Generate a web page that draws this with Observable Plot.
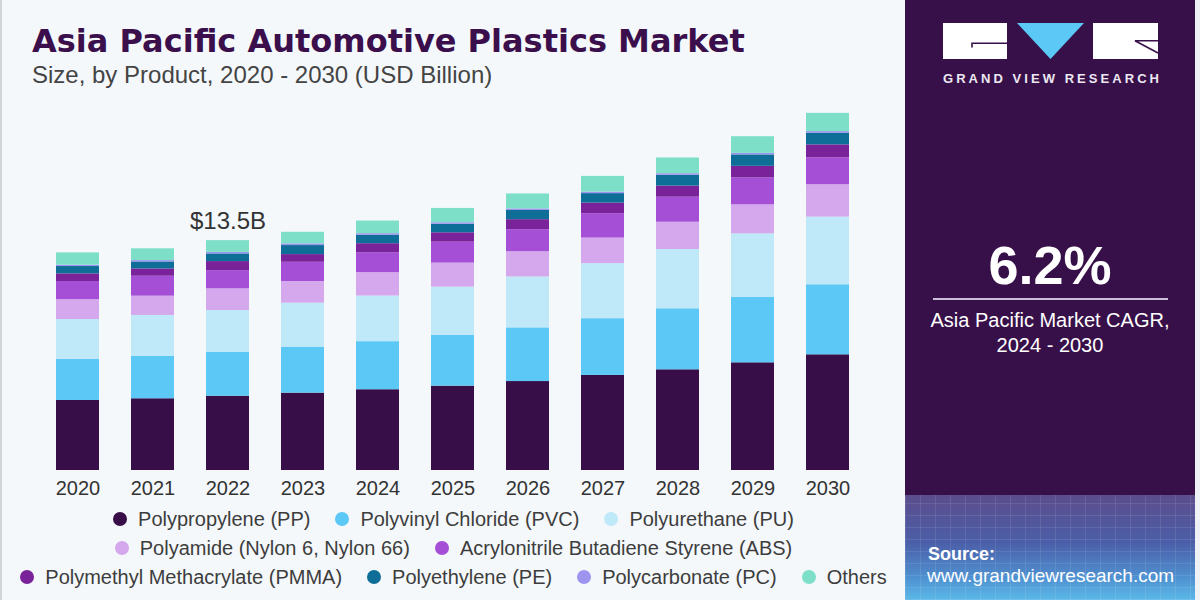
<!DOCTYPE html>
<html>
<head>
<meta charset="utf-8">
<script src="https://cdn.jsdelivr.net/npm/d3@7"></script>
<script src="https://cdn.jsdelivr.net/npm/@observablehq/plot@0.6"></script>
<style>
  html, body { margin: 0; padding: 0; }
  body { width: 1200px; height: 600px; overflow: hidden; background: #f4f8fb; font-family: "Liberation Sans", Arial, sans-serif; }
  #page { position: relative; width: 1200px; height: 600px; background: #f4f8fb; border-left: 2px solid #d2d4d8; box-sizing: border-box; }
  .abs { position: absolute; white-space: nowrap; }
  #title { left: 30px; top: 25px; font-family: "DejaVu Sans", sans-serif; font-weight: bold; font-size: 32px; line-height: 32px; color: #3a0f4c; }
  #subtitle { left: 30px; top: 63px; font-size: 24px; line-height: 24px; color: #444; }
  #chart { left: -2px; top: 100px; }
  .lrow { position: absolute; left: -2px; width: 907px; height: 28px; display: flex; justify-content: center; align-items: center; font-size: 20px; color: #3d3d3d; }
  .item { display: flex; align-items: center; margin-right: 25px; }
  .item:last-child { margin-right: 0; }
  .dot { width: 14px; height: 14px; border-radius: 50%; margin-right: 11px; }
  #panel { left: 903px; top: 0; width: 290px; height: 600px; background: #381049; overflow: hidden; }
  #grid { left: 0; top: 495px; width: 290px; height: 105px;
    background:
      repeating-linear-gradient(90deg, rgba(255,255,255,0.09) 0 1px, transparent 1px 15px),
      repeating-linear-gradient(0deg, rgba(255,255,255,0.09) 0 1px, transparent 1px 12px),
      linear-gradient(to bottom, #5c4d8c 0%, #4b5ea8 45%, #4f93d2 80%, #5cb9e8 100%); }
  #edge { left: 1193px; top: 0; width: 7px; height: 600px; background: #eef2f6; }
</style>
</head>
<body>
<div id="page">
  <div id="title" class="abs">Asia Pacific Automotive Plastics Market</div>
  <div id="subtitle" class="abs">Size, by Product, 2020 - 2030 (USD Billion)</div>
  <div id="chart" class="abs"></div>
  <div id="legend"></div>

  <div id="panel" class="abs">
    <div id="grid" class="abs"></div>
  </div>
  <div id="edge" class="abs"></div>
  <svg class="abs" style="left:-2px;top:0" width="1200" height="100">
    <rect x="943" y="23" width="64" height="36" fill="#ffffff"/>
    <path d="M972,47.5 L972,43.3 L1007,43.3" fill="none" stroke="#381049" stroke-width="1.6"/>
    <polygon points="1017,23 1084,23 1050.5,59" fill="#5bc8f5"/>
    <rect x="1093" y="23" width="65" height="36" fill="#ffffff"/>
    <path d="M1158,40.7 L1135,40.7 L1158,53" fill="none" stroke="#381049" stroke-width="1.6"/>
  </svg>
  <div class="abs" style="left:941px;top:72px;font-size:13px;line-height:13px;font-weight:bold;letter-spacing:3.05px;color:#ece8f2;">GRAND VIEW RESEARCH</div>
  <div class="abs" style="left:903px;width:290px;top:238px;text-align:center;font-size:54px;line-height:54px;font-weight:bold;color:#fff;">6.2%</div>
  <div class="abs" style="left:931px;top:298px;width:235px;height:2px;background:#c9c0d8;"></div>
  <div class="abs" style="left:903px;width:290px;top:310px;text-align:center;font-size:20px;line-height:20px;color:#fff;">Asia Pacific Market CAGR,</div>
  <div class="abs" style="left:903px;width:290px;top:335px;text-align:center;font-size:20px;line-height:20px;color:#fff;">2024 - 2030</div>
  <div class="abs" style="left:926px;top:545px;font-size:18px;line-height:18px;font-weight:bold;color:#fff;">Source:</div>
  <div class="abs" style="left:925px;top:566px;font-size:19px;line-height:19px;color:#fff;">www.grandviewresearch.com</div>
</div>
<script>
// ---- Data (USD Billion) ----
const years = ["2020","2021","2022","2023","2024","2025","2026","2027","2028","2029","2030"];
const products = [
  "Polypropylene (PP)",
  "Polyvinyl Chloride (PVC)",
  "Polyurethane (PU)",
  "Polyamide (Nylon 6, Nylon 66)",
  "Acrylonitrile Butadiene Styrene (ABS)",
  "Polymethyl Methacrylate (PMMA)",
  "Polyethylene (PE)",
  "Polycarbonate (PC)",
  "Others"
];
const colors = ["#380e49","#5bc8f5","#bfe8f9","#d5a7ec","#a54fd7","#7a2299","#0f6e97","#9d94f0","#7ddfc8"];

const pp     = [4.11, 4.21, 4.36, 4.54, 4.74, 4.95, 5.22, 5.58, 5.91, 6.32, 6.79];
const pvc    = [2.42, 2.48, 2.58, 2.70, 2.82, 2.98, 3.15, 3.33, 3.58, 3.85, 4.11];
const pu     = [2.33, 2.41, 2.45, 2.58, 2.68, 2.83, 2.99, 3.23, 3.48, 3.72, 3.97];
const pa     = [1.17, 1.13, 1.27, 1.27, 1.37, 1.41, 1.48, 1.50, 1.60, 1.70, 1.90];
const abs    = [1.06, 1.17, 1.07, 1.13, 1.17, 1.23, 1.29, 1.43, 1.47, 1.58, 1.58];
const pmma   = [0.45, 0.43, 0.53, 0.45, 0.53, 0.55, 0.59, 0.62, 0.65, 0.68, 0.76];
const pe     = [0.43, 0.41, 0.45, 0.53, 0.50, 0.50, 0.54, 0.56, 0.64, 0.67, 0.69];
const pc     = [0.08, 0.08, 0.09, 0.10, 0.09, 0.09, 0.09, 0.09, 0.09, 0.09, 0.09];
const others = [0.72, 0.69, 0.69, 0.68, 0.74, 0.84, 0.88, 0.92, 0.92, 0.98, 1.07];

const annotYears = ["2022"];
const annotLabels = ["$13.5B"];

// ---- Build table ----
const series = [pp, pvc, pu, pa, abs, pmma, pe, pc, others];
const table = [];
products.forEach((p, i) => years.forEach((y, j) => table.push({year: y, product: p, value: series[i][j]})));
const totals = {};
years.forEach((y, j) => totals[y] = d3.sum(series, s => s[j]));
const annots = annotYears.map((y, k) => ({year: y, label: annotLabels[k], total: totals[y]}));

const chart = Plot.plot({
  width: 907,
  height: 400,
  marginLeft: 23,
  marginRight: 26,
  marginTop: 29.2,
  marginBottom: 30,
  style: {fontFamily: "'Liberation Sans', Arial, sans-serif", fontSize: "20px", color: "#333", background: "transparent", overflow: "visible"},
  x: {domain: years, padding: 0.43, tickSize: 0, tickPadding: 10, label: null},
  y: {domain: [0, 20], axis: null},
  color: {domain: products, range: colors},
  marks: [
    Plot.barY(table, {x: "year", y: "value", fill: "product", z: "product"}),
    Plot.text(annots, {x: "year", y: "total", text: "label", lineAnchor: "bottom", dy: -12, fontSize: 24, fill: "#333"})
  ]
});
document.getElementById("chart").appendChild(chart);

// ---- Legend (HTML, below the SVG) ----
const rows = [[0,1,2],[3,4],[5,6,7,8]];
const rowTops = [505, 534, 563];
const legend = document.getElementById("legend");
rows.forEach((r, k) => {
  const row = document.createElement("div");
  row.className = "lrow";
  row.style.top = rowTops[k] + "px";
  r.forEach(i => {
    const it = document.createElement("div");
    it.className = "item";
    const dot = document.createElement("span");
    dot.className = "dot";
    dot.style.background = colors[i];
    const t = document.createElement("span");
    t.textContent = products[i];
    it.appendChild(dot); it.appendChild(t);
    row.appendChild(it);
  });
  legend.appendChild(row);
});
</script>
</body>
</html>
